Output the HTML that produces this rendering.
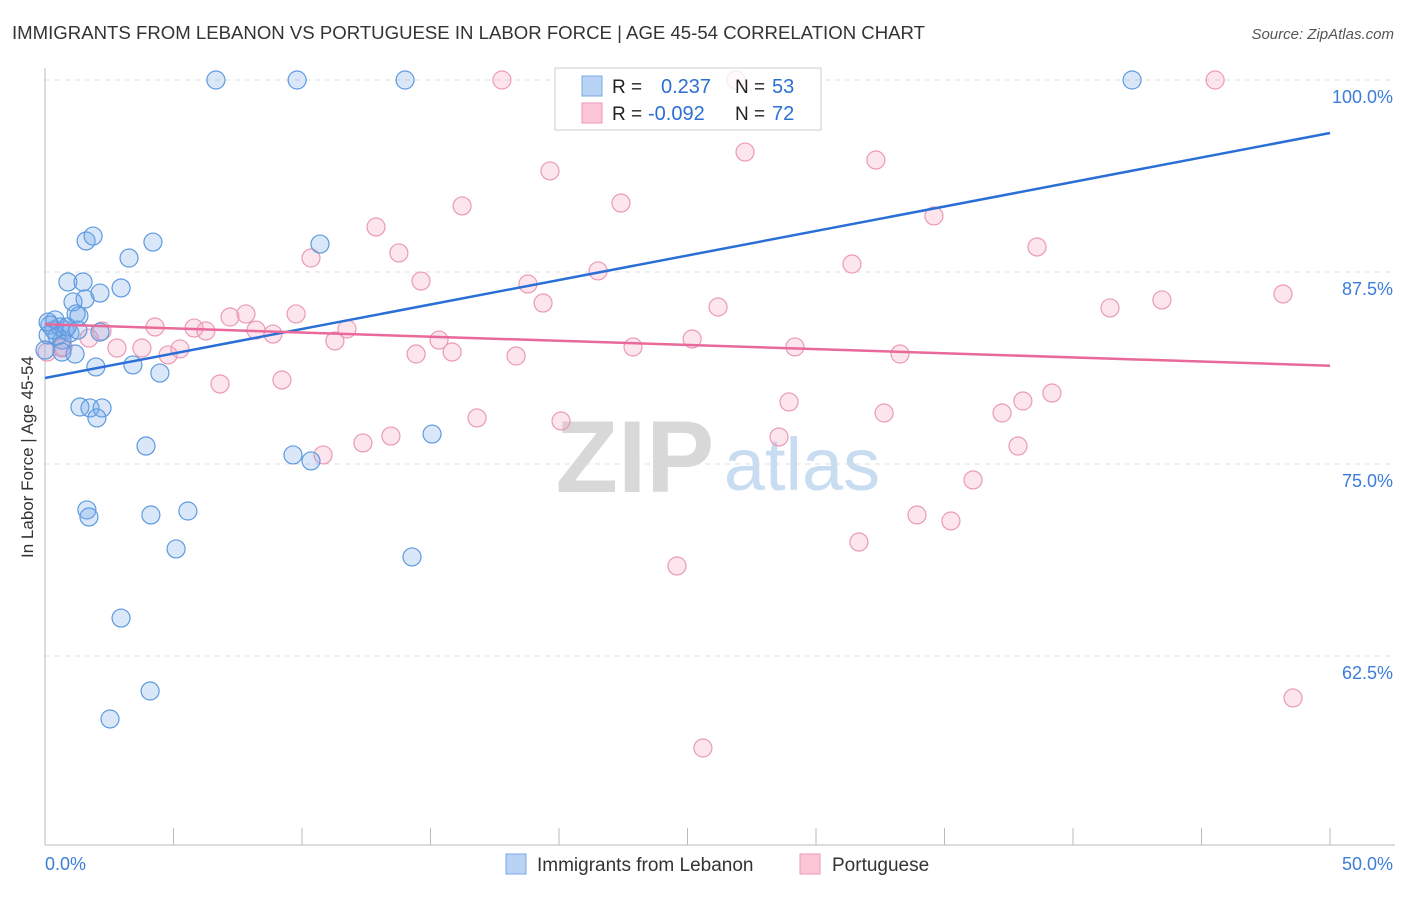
<!DOCTYPE html>
<html><head><meta charset="utf-8"><style>
body{margin:0;background:#fff;font-family:"Liberation Sans",sans-serif;}
svg text{font-family:"Liberation Sans",sans-serif;}
</style></head><body>
<svg id="chart" width="1406" height="892" xmlns="http://www.w3.org/2000/svg">
<text x="12" y="39" font-size="18.6" fill="#333">IMMIGRANTS FROM LEBANON VS PORTUGUESE IN LABOR FORCE | AGE 45-54 CORRELATION CHART</text>
<text x="1394" y="39" font-size="15" fill="#555" text-anchor="end" font-style="italic">Source: ZipAtlas.com</text>
<text transform="translate(33,457) rotate(-90)" font-size="17" fill="#333" text-anchor="middle">In Labor Force | Age 45-54</text>
<g>
<text x="635" y="492" font-size="102" fill="#d8d8d8" text-anchor="middle" font-family="Liberation Serif" font-weight="bold">ZIP</text>
<text x="802" y="490" font-size="74" fill="#c8dcf2" text-anchor="middle">atlas</text>
</g>
<g id="grid"></g><g id="axes"></g><g id="marks"></g>
<g>
<rect x="555" y="68" width="266" height="62" fill="#fff" fill-opacity="0.8" stroke="#ccc"/>
<rect x="582" y="76" width="20" height="20" fill="#b9d3f5" stroke="#7aa9e8"/>
<rect x="582" y="103" width="20" height="20" fill="#fbc6d6" stroke="#ef9ab6"/>
<text x="612" y="93" font-size="19" fill="#222">R =</text>
<text x="661" y="93" font-size="20" fill="#2b6fd1">0.237</text>
<text x="735" y="93" font-size="19" fill="#222">N =</text>
<text x="772" y="93" font-size="20" fill="#2b6fd1">53</text>
<text x="612" y="120" font-size="19" fill="#222">R =</text>
<text x="648" y="120" font-size="20" fill="#2b6fd1">-0.092</text>
<text x="735" y="120" font-size="19" fill="#222">N =</text>
<text x="772" y="120" font-size="20" fill="#2b6fd1">72</text>
</g>
<g>
<rect x="506" y="854" width="20" height="20" fill="#b9d3f5" stroke="#7aa9e8"/>
<text x="537" y="871" font-size="19" fill="#333">Immigrants from Lebanon</text>
<rect x="800" y="854" width="20" height="20" fill="#fbc6d6" stroke="#ef9ab6"/>
<text x="832" y="871" font-size="19" fill="#333">Portuguese</text>
</g>
</svg>
<script>
const yTicks=[100,87.5,75,62.5];
const yTickLabels=["100.0%","87.5%","75.0%","62.5%"];
const xTicks=[0,5,10,15,20,25,30,35,40,45,50];
const xEndLabels=["0.0%","50.0%"];
const blueX=[6.65,9.81,14.01,42.30,1.60,1.87,4.20,10.70,3.27,0.89,1.48,2.96,1.56,1.09,2.14,1.21,1.32,0.39,0.19,0.58,0.78,0.97,0.47,0.66,0.12,1.17,0.66,1.98,3.42,4.47,1.36,1.75,2.22,2.02,3.93,9.65,10.35,15.06,1.63,1.71,4.12,5.56,5.10,14.28,2.96,4.09,2.53,2.14,0.35,0,0.86,1.28,0.12];
const blueY=[100,100,100,100,89.52,89.84,89.45,89.32,88.41,86.85,86.85,86.46,85.74,85.55,86.13,84.77,84.64,84.38,84.05,83.92,83.72,83.53,83.33,83.07,83.40,82.16,82.29,81.32,81.45,80.92,78.71,78.65,78.65,78.00,76.17,75.59,75.20,76.95,72.01,71.55,71.68,71.94,69.47,68.95,64.97,60.22,58.40,83.59,83.72,82.42,83.92,83.72,84.24];
const pinkX=[17.78,26.89,45.53,27.24,32.33,19.65,22.41,16.23,34.59,12.88,38.60,13.77,10.35,31.40,21.52,14.63,18.79,19.38,26.19,43.46,41.44,48.17,7.20,7.82,9.77,4.28,5.80,6.26,8.21,8.87,11.75,11.28,2.22,1.71,0.70,2.80,3.77,4.79,5.25,14.44,15.33,15.84,18.33,22.88,25.18,29.18,33.27,0.08,6.81,9.22,28.95,32.65,37.24,38.05,39.18,16.81,20.08,12.37,13.46,10.82,28.56,37.86,36.11,33.93,35.25,31.67,24.59,25.60,48.56,0.66];
const pinkY=[100,100,100,95.31,94.79,94.08,91.99,91.80,91.15,90.43,89.13,88.74,88.41,88.02,87.57,86.91,86.72,85.48,85.22,85.68,85.16,86.07,84.57,84.77,84.77,83.92,83.85,83.66,83.72,83.46,83.79,83.01,83.66,83.20,82.62,82.55,82.55,82.10,82.49,82.16,83.07,82.29,82.03,82.62,83.14,82.62,82.16,82.29,80.21,80.47,79.04,78.32,78.32,79.10,79.62,78.00,77.80,76.37,76.82,75.59,76.76,76.17,73.96,71.68,71.29,69.92,68.36,56.51,59.77,82.55];
const blueTrend=[80.6,96.55];
const pinkTrend=[84.1,81.4];

const NS="http://www.w3.org/2000/svg";
const X=v=>45+v*25.7;
const Y=v=>80+(100-v)*15.36;
function mk(tag,attrs,parent){const e=document.createElementNS(NS,tag);for(const k in attrs)e.setAttribute(k,attrs[k]);parent.appendChild(e);return e;}
const grid=document.getElementById('grid'),axes=document.getElementById('axes'),marks=document.getElementById('marks');
yTicks.forEach((t,i)=>{
 const l=mk('line',{x1:45,x2:1395,y1:Y(t),y2:Y(t),stroke:'#ddd','stroke-dasharray':'5,5'},grid);
 
 
 const tx=mk('text',{x:1393,y:Y(t)+23,'font-size':18,fill:'#3b7dd8','text-anchor':'end'},axes);
 tx.textContent=yTickLabels[i];
 
 
});
const xa=mk('line',{x1:45,x2:1395,y1:845,y2:845,stroke:'#bbb'},axes);


const ya=mk('line',{x1:45,x2:45,y1:68,y2:845,stroke:'#bbb'},axes);


xTicks.forEach(t=>{
 const l=mk('line',{x1:X(t),x2:X(t),y1:828,y2:845,stroke:'#bbb'},axes);
 
 
});
[[0,'start',45],[50,'end',1393]].forEach((d,i)=>{
 const tx=mk('text',{x:d[2],y:870,'font-size':18,fill:'#3b7dd8','text-anchor':d[1]},axes);
 tx.textContent=xEndLabels[i];
 
 
});
pinkX.forEach((x,i)=>{
 const c=mk('circle',{cx:X(x),cy:Y(pinkY[i]),r:9,fill:'rgba(244,160,190,0.28)',stroke:'#eb9ab6','stroke-width':1.2},marks);
 
 
});
blueX.forEach((x,i)=>{
 const c=mk('circle',{cx:X(x),cy:Y(blueY[i]),r:9,fill:'rgba(120,170,235,0.28)',stroke:'#5d9ae0','stroke-width':1.2},marks);
 
 
});
const bl=mk('line',{x1:X(0),y1:Y(blueTrend[0]),x2:X(50),y2:Y(blueTrend[1]),stroke:'#2a6fd6','stroke-width':2.5},marks);


const pl=mk('line',{x1:X(0),y1:Y(pinkTrend[0]),x2:X(50),y2:Y(pinkTrend[1]),stroke:'#e8699a','stroke-width':2.5},marks);


</script>
</body></html>
